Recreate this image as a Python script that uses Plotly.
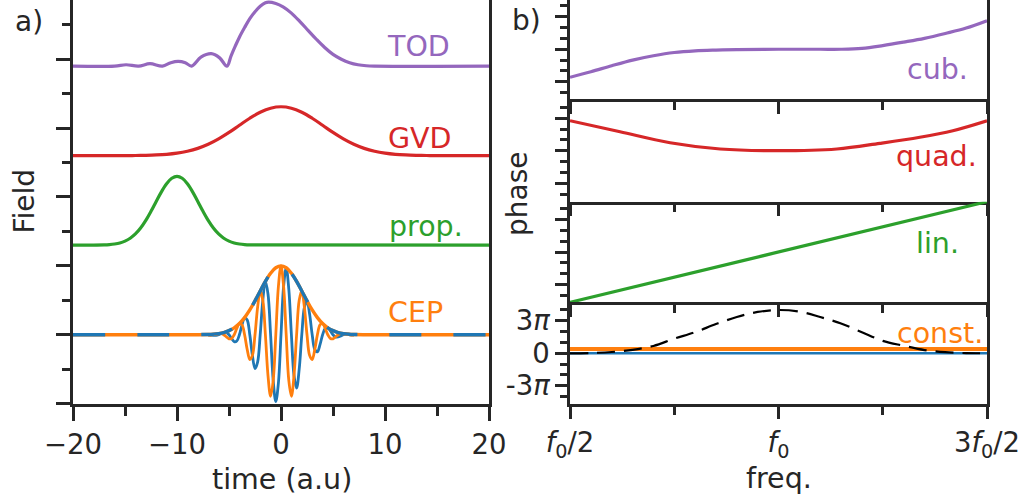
import plotly.graph_objects as go

# ---------------- data ----------------
# panel a) time axis
T_CARRIER = [i * 0.25 - 7 for i in range(57)]
CEP_ORANGE = [-0.004, -0.004, 0.0, 0.008, 0.017, 0.017, 0.0, -0.031, -0.059, -0.055, 0.0, 0.091, 0.163, 0.144,
              0.0, -0.214, -0.360, -0.300, 0.0, 0.398, 0.635, 0.500, 0.0, -0.592, -0.893, -0.663, 0.0, 0.702,
              1.0,
              0.702, 0.0, -0.663, -0.893, -0.592, 0.0, 0.500, 0.635, 0.398, 0.0, -0.300, -0.360, -0.214, 0.0,
              0.144, 0.163, 0.091, 0.0, -0.055, -0.059, -0.031, 0.0, 0.017, 0.017, 0.008, 0.0, -0.004, -0.004]
CEP_BLUE = [0.0, -0.004, -0.008, -0.008, 0.0, 0.017, 0.032, 0.031, 0.0, -0.055, -0.101, -0.091, 0.0, 0.144,
            0.249, 0.214, 0.0, -0.300, -0.492, -0.398, 0.0, 0.500, 0.775, 0.592, 0.0, -0.663, -0.972, -0.702,
            0.0,
            0.702, 0.972, 0.663, 0.0, -0.592, -0.775, -0.500, 0.0, 0.398, 0.492, 0.300, 0.0, -0.214, -0.249,
            -0.144, 0.0, 0.091, 0.101, 0.055, 0.0, -0.031, -0.032, -0.017, 0.0, 0.008, 0.008, 0.004, 0.0]

T_ENV = [-20, -7, -6.5, -6, -5.5, -5, -4.5, -4, -3.5, -3, -2.5, -2, -1.5, -1, -0.5, 0,
         0.5, 1, 1.5, 2, 2.5, 3, 3.5, 4, 4.5, 5, 5.5, 6, 6.5, 7, 20]
CEP_ENV = [0, 0.004, 0.008, 0.017, 0.032, 0.059, 0.101, 0.163, 0.249, 0.360, 0.492, 0.635, 0.775, 0.893,
           0.972, 1.0, 0.972, 0.893, 0.775, 0.635, 0.492, 0.360, 0.249, 0.163, 0.101, 0.059, 0.032, 0.017,
           0.008, 0.004, 0]

T_PROP = [-20, -17, -16.5, -16, -15.5, -15, -14.5, -14, -13.5, -13, -12.5, -12, -11.5, -11, -10.5, -10,
          -9.5, -9, -8.5, -8, -7.5, -7, -6.5, -6, -5.5, -5, -4.5, -4, -3.5, -3, 20]
PROP_FIELD = [0, 0.004, 0.008, 0.017, 0.032, 0.059, 0.101, 0.163, 0.249, 0.360, 0.492, 0.635, 0.775, 0.893,
              0.972, 1.0, 0.972, 0.893, 0.775, 0.635, 0.492, 0.360, 0.249, 0.163, 0.101, 0.059, 0.032, 0.017,
              0.008, 0.004, 0]

T_GVD = [-20, -15, -14, -13, -12, -11, -10, -9, -8, -7, -6, -5, -4, -3, -2, -1, 0,
         1, 2, 3, 4, 5, 6, 7, 8, 9, 10, 11, 12, 13, 14, 15, 20]
GVD_FIELD = [0, 0.001, 0.002, 0.005, 0.010, 0.019, 0.036, 0.064, 0.106, 0.165, 0.243, 0.337, 0.441, 0.543,
             0.630, 0.689, 0.71, 0.689, 0.630, 0.543, 0.441, 0.337, 0.243, 0.165, 0.106, 0.064, 0.036, 0.019,
             0.010, 0.005, 0.002, 0.001, 0]

T_TOD = [-20, -16, -14.9, -13.7, -12.6, -11.4, -10.6, -9.9, -9.2, -8.6, -7.7, -6.7, -5.9, -5.2,
         -4.8, -4.4, -4.0, -3.5, -3.0, -2.5, -2.0, -1.5, -1.2, -0.5, 0.2, 1.0, 1.8, 2.6, 3.4, 4.2, 5.0,
         5.8, 6.6, 7.4, 8.2, 9.0, 20]
TOD_FIELD = [0, 0.0, 0.02, 0.0, 0.035, 0.0, 0.05, 0.07, 0.05, 0.0, 0.13, 0.18, 0.12, 0.0,
             0.15, 0.29, 0.42, 0.56, 0.69, 0.79, 0.87, 0.92, 0.93, 0.91, 0.86, 0.77, 0.65, 0.52, 0.39, 0.27,
             0.17, 0.10, 0.05, 0.02, 0.005, 0.0, 0]

OFFSETS = {"prop": 1.3, "GVD": 2.6, "TOD": 3.9}

# panel b) frequency axis (units of f0), phase in units of pi
F_CUB = [0.5, 0.55, 0.6, 0.65, 0.7, 0.75, 0.8, 0.85, 0.9, 1.0, 1.1, 1.15, 1.2, 1.25, 1.3, 1.35, 1.4, 1.45, 1.5]
PHI_CUB = [-2.59, -2.08, -1.52, -1.0, -0.6, -0.3, -0.14, -0.07, -0.03, 0.0, 0.0, 0.0, 0.08, 0.34, 0.66, 1.01,
           1.46, 1.96, 2.64]
F_QUAD = [0.5, 0.62, 0.74, 0.86, 1.0, 1.14, 1.243, 1.339, 1.418, 1.5]
PHI_QUAD = [2.77, 1.75, 0.74, 0.16, 0.0, 0.16, 0.68, 1.24, 1.85, 2.77]
F_LIN = [0.5, 1.5]
PHI_LIN = [-4.645, 4.645]
F_CONST = [0.5, 1.5]
PHI_CONST_BLUE = [0.0, 0.0]
PHI_CONST_ORANGE = [0.4, 0.4]
F_SPEC = [0.5, 0.55, 0.6, 0.65, 0.7, 0.75, 0.8, 0.85, 0.9, 0.95, 1.0, 1.05, 1.1, 1.15, 1.2, 1.25, 1.3,
          1.35, 1.4, 1.45, 1.5]
SPECTRUM = [0.0, 0.03, 0.12, 0.32, 0.68, 1.35, 1.95, 2.7, 3.35, 3.82, 4.0, 3.85, 3.35, 2.75, 1.95, 1.15,
            0.7, 0.3, 0.1, 0.02, 0.0]

X_TICKS_A = [-20, -10, 0, 10, 20]
X_TICKTEXT_A = ["\u221220", "\u221210", "0", "10", "20"]
X_TICKS_B = [0.5, 1.0, 1.5]
X_TICKTEXT_B = ["<i>f</i><sub>0</sub>/2", "<i>f</i><sub>0</sub>", "3<i>f</i><sub>0</sub>/2"]
Y_TICKS_CONST = [-3, 0, 3]
Y_TICKTEXT_CONST = ["-3<i>\u03c0</i>", "0", "3<i>\u03c0</i>"]

# ---------------- styling ----------------
PURPLE, RED, GREEN, ORANGE, BLUE = "#9467bd", "#d62728", "#2ca02c", "#ff7f0e", "#1f77b4"
INK = "#262626"
FONT = "DejaVu Sans"
W, H = 1028, 498
LW = 3.2


def px(x):
    return x / W


def py(y):
    return 1 - y / H


fig = go.Figure()


def line(x, y, color, axis, width=LW, dash=None, shape="spline"):
    fig.add_trace(go.Scatter(x=x, y=y, mode="lines", xaxis="x" + axis, yaxis="y" + axis,
                             line=dict(color=color, width=width, dash=dash, shape=shape, smoothing=1.0),
                             showlegend=False, hoverinfo="skip"))


# panel a
line(T_TOD, [v + OFFSETS["TOD"] for v in TOD_FIELD], PURPLE, "")
line(T_GVD, [v + OFFSETS["GVD"] for v in GVD_FIELD], RED, "")
line(T_PROP, [v + OFFSETS["prop"] for v in PROP_FIELD], GREEN, "")
line(T_CARRIER, CEP_BLUE, BLUE, "", width=2.8)
line(T_CARRIER, CEP_ORANGE, ORANGE, "", width=2.8)
line(T_ENV, CEP_ENV, ORANGE, "", width=3.4)
line(T_ENV, CEP_ENV, BLUE, "", width=3.4, dash="32px,32px")

# panel b
line(F_CUB, PHI_CUB, PURPLE, "2")
line(F_QUAD, PHI_QUAD, RED, "3")
line(F_LIN, PHI_LIN, GREEN, "4", shape="linear")
line(F_CONST, PHI_CONST_BLUE, BLUE, "5", width=2.4, shape="linear")
line(F_CONST, PHI_CONST_ORANGE, ORANGE, "5", width=4, shape="linear")
line(F_SPEC, SPECTRUM, "black", "5", width=2.2, dash="18px,9px")

tickfont = dict(family=FONT, size=27.5, color=INK)
axbase = dict(showline=True, linecolor=INK, linewidth=2.5, showgrid=False, zeroline=False,
              ticks="outside", tickcolor=INK, tickwidth=2.5, tickfont=tickfont, fixedrange=True,
              automargin=False)

left_dom = [px(73), px(489)]
right_dom = [px(570), px(987)]

fig.update_layout(
    width=W, height=H, margin=dict(l=0, r=0, t=0, b=0, autoexpand=False),
    paper_bgcolor="white", plot_bgcolor="white", showlegend=False,
    xaxis=dict(axbase, mirror=True, domain=left_dom, range=[-20, 20], tickmode="array", tickvals=X_TICKS_A,
               ticktext=X_TICKTEXT_A, ticklen=14, anchor="y",
               minor=dict(tickvals=[-15, -5, 5, 15], ticks="outside", ticklen=9, tickwidth=2.5, tickcolor=INK)),
    yaxis=dict(axbase, mirror=True, domain=[py(404.3), 1], range=[-1.01, 4.86], tickmode="array",
               tickvals=[-1, 0, 1, 2, 3, 4], showticklabels=False, ticklen=14, anchor="x",
               minor=dict(tickvals=[-0.5, 0.5, 1.5, 2.5, 3.5, 4.5], ticks="outside", ticklen=8, tickwidth=2.5,
                          tickcolor=INK)),
)

right_rows = [
    ("2", [py(99.3), 1.0], [-4.62, 4.55]),
    ("3", [py(201.7), py(99.3)], [-4.71, 4.75]),
    ("4", [py(302.3), py(201.7)], [-4.645, 4.645]),
    ("5", [py(404.3), py(302.3)], [-4.71, 4.71]),
]
for n, dom, rng in right_rows:
    xa = dict(axbase, mirror=(n == "2"), domain=right_dom, range=[0.5, 1.5], tickmode="array",
              tickvals=X_TICKS_B, ticktext=X_TICKTEXT_B, showticklabels=(n == "5"), ticklen=12,
              anchor="y" + n,
              minor=dict(tickvals=[0.75, 1.25], ticks="outside", ticklen=8, tickwidth=2.5, tickcolor=INK))
    ya = dict(axbase, mirror=True, domain=dom, range=rng, tickmode="array", tickvals=[-3, 0, 3], ticklen=12,
              anchor="x" + n, showticklabels=(n == "5"),
              minor=dict(tickvals=[-4, -2, -1, 1, 2, 4], ticks="outside", ticklen=7, tickwidth=2.5,
                         tickcolor=INK))
    if n == "5":
        ya["ticktext"] = Y_TICKTEXT_CONST
        ya["tickvals"] = Y_TICKS_CONST
    fig.layout["xaxis" + n] = xa
    fig.layout["yaxis" + n] = ya


def note(text, x, y, color=INK, size=28, angle=0):
    fig.add_annotation(text=text, x=px(x), y=py(y), xref="paper", yref="paper", showarrow=False,
                       xanchor="center", yanchor="middle", textangle=angle,
                       font=dict(family=FONT, size=size, color=color))


note("a)", 29, 22)
note("b)", 526, 20)
note("Field", 23.5, 201, angle=-90)
note("phase", 518, 194, angle=-90)
note("time (a.u)", 281.5, 479, size=28.5)
note("freq.", 779, 478, size=28.5)
note("TOD", 418, 47, PURPLE, 28.5)
note("GVD", 419.5, 138, RED, 28.5)
note("prop.", 425.5, 226, GREEN, 28.5)
note("CEP", 415.5, 312, ORANGE, 28.5)
note("cub.", 937.5, 70, PURPLE, 28.5)
note("quad.", 936, 157, RED, 28.5)
note("lin.", 937, 243, GREEN, 28.5)
note("const.", 939.5, 333, ORANGE, 28.5)

fig.write_html("out.html")
